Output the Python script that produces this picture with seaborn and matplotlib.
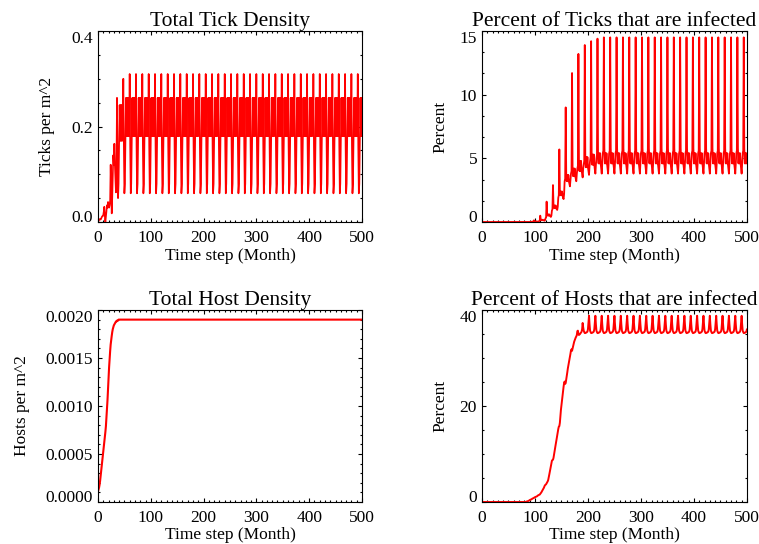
import matplotlib
matplotlib.use('Agg')
import matplotlib.pyplot as plt
import matplotlib.transforms as mtransforms
import numpy as np
import seaborn as sns
from matplotlib.ticker import FormatStrFormatter, MultipleLocator

N_MONTHS = 501
MONTHS = np.arange(N_MONTHS)

# Total tick density (ticks per m^2): first five years read month by month,
# then one yearly cycle that repeats to the end of the run
TICK_DENSITY_START = [
    0.0, 0.002, 0.004, 0.006, 0.006, 0.005, 0.007, 0.01, 0.012, 0.012, 0.015, 0.022,
    0.032, 0.012, 0.0, 0.01, 0.022, 0.035, 0.03, 0.042, 0.035, 0.03, 0.035, 0.045,
    0.12, 0.06, 0.018, 0.05, 0.10, 0.14, 0.12, 0.164, 0.12, 0.09, 0.062, 0.12,
    0.26, 0.13, 0.05, 0.08, 0.17, 0.245, 0.17, 0.245, 0.17, 0.245, 0.17, 0.20,
    0.30, 0.16, 0.06, 0.08, 0.18, 0.26, 0.18, 0.26, 0.18, 0.26, 0.18, 0.18,
]
TICK_DENSITY_CYCLE = [0.31, 0.16, 0.06, 0.08, 0.18, 0.26, 0.18, 0.26, 0.18, 0.26, 0.18, 0.18]

# Percent of ticks infected: zero for the first 90 months, then yearly rows from month 96
TICK_INFECTED_START = [0.0] * 90 + [0.0, 0.005, 0.01, 0.01, 0.015, 0.02] + [
    0.02, 0.05, 0.13, 0.05, 0.04, 0.05, 0.04, 0.05, 0.04, 0.03, 0.03, 0.05,
    0.08, 0.10, 0.5, 0.18, 0.14, 0.18, 0.14, 0.18, 0.14, 0.12, 0.10, 0.14,
    0.3, 0.35, 1.6, 0.6, 0.5, 0.6, 0.5, 0.6, 0.5, 0.45, 0.4, 0.5,
    0.9, 1.0, 2.9, 1.3, 1.1, 1.3, 1.1, 1.3, 1.1, 1.0, 0.95, 1.2,
    1.9, 2.1, 5.7, 2.4, 2.1, 2.4, 2.1, 2.4, 2.1, 1.9, 1.8, 2.2,
    3.2, 3.4, 9.0, 3.7, 3.2, 3.7, 3.2, 3.7, 3.2, 3.0, 2.8, 3.3,
    3.8, 4.0, 11.7, 4.2, 3.6, 4.2, 3.6, 4.2, 3.6, 3.4, 3.2, 3.8,
    4.2, 4.4, 13.2, 4.8, 4.0, 4.8, 4.0, 4.8, 4.0, 3.8, 3.5, 4.2,
    4.5, 4.8, 13.9, 5.1, 4.3, 5.1, 4.3, 5.1, 4.3, 4.0, 3.7, 4.4,
    4.8, 5.1, 14.2, 5.3, 4.5, 5.3, 4.5, 5.3, 4.5, 4.1, 3.8, 4.5,
    5.0, 5.3, 14.4, 5.4, 4.6, 5.4, 4.6, 5.4, 4.6, 4.2, 3.8, 4.6,
]
TICK_INFECTED_CYCLE = [5.4, 5.6, 14.5, 5.8, 4.6, 5.4, 4.6, 5.4, 4.6, 4.2, 3.8, 4.6]

# Total host density (hosts per m^2): growth over the first 40 months, then flat
HOST_DENSITY_START = [
    0.00011, 0.00013, 0.00015, 0.00018, 0.00022, 0.00027, 0.00032, 0.00037,
    0.00042, 0.00047, 0.00052, 0.00057, 0.00062, 0.00068, 0.00073, 0.00079,
    0.00088, 0.00097, 0.00106, 0.00118, 0.00129, 0.00140, 0.00149, 0.00157,
    0.00164, 0.00169, 0.00173, 0.00177, 0.00180, 0.00182, 0.00184, 0.00185,
    0.00186, 0.00187, 0.00188, 0.00188, 0.00189, 0.00189, 0.00189, 0.00190,
]
HOST_DENSITY_CYCLE = [0.00190]

# Percent of hosts infected: zero for 84 months, then yearly rows up to month 191
HOST_INFECTED_START = [0.0] * 84 + [
    0.1, 0.1, 0.15, 0.2, 0.25, 0.3, 0.4, 0.45, 0.5, 0.55, 0.6, 0.7,
    0.75, 0.8, 0.85, 0.95, 1.0, 1.05, 1.1, 1.15, 1.2, 1.3, 1.4, 1.45,
    1.5, 1.55, 1.7, 1.85, 2.0, 2.2, 2.4, 2.6, 2.8, 3.0, 3.3, 3.5,
    3.6, 3.7, 3.9, 4.1, 4.3, 4.6, 5.1, 5.7, 6.3, 6.9, 7.5, 8.0,
    8.6, 8.75, 8.8, 9.2, 9.9, 10.6, 11.3, 11.9, 12.5, 13.2, 13.9, 14.6,
    15.2, 15.7, 15.8, 16.5, 18.0, 19.2, 20.2, 21.2, 22.0, 23.0, 24.0, 24.8,
    25.1, 24.6, 24.8, 25.5, 26.3, 27.0, 27.8, 28.4, 29.0, 29.6, 30.3, 30.9,
    31.6, 31.8, 31.5, 32.0, 32.5, 33.0, 33.4, 33.7, 34.0, 34.3, 34.5, 34.8,
    35.6, 35.7, 34.9, 34.8, 34.9, 35.0, 35.2, 35.3, 35.5, 36.0, 37.3, 36.4,
]
HOST_INFECTED_CYCLE = [35.7, 35.4, 35.2, 35.2, 35.3, 35.3, 35.4, 35.5, 36.0, 37.5, 38.8, 37.0]

TITLES = ['Total Tick Density', 'Percent of Ticks that are infected',
          'Total Host Density', 'Percent of Hosts that are infected']
YLABELS = ['Ticks per m^2', 'Percent', 'Hosts per m^2', 'Percent']
XLABEL = 'Time step (Month)'
X_TICKS = [0, 100, 200, 300, 400, 500]
Y_TICKS = [[0.0, 0.2, 0.4], [0, 5, 10, 15],
           [0.0, 0.0005, 0.0010, 0.0015, 0.0020], [0, 20, 40]]


def build_series(start, cycle):
    ''' Month-by-month values: the read start-up part, then the read yearly cycle repeated. '''
    reps = (N_MONTHS - len(start)) // len(cycle) + 1
    return np.concatenate([np.array(start), np.tile(cycle, reps)])[:N_MONTHS]


def plot_panels():
    sns.set_theme(style='ticks')
    plt.rcParams['font.family'] = ['Liberation Serif', 'DejaVu Serif']

    series = [build_series(TICK_DENSITY_START, TICK_DENSITY_CYCLE),
              build_series(TICK_INFECTED_START, TICK_INFECTED_CYCLE),
              build_series(HOST_DENSITY_START, HOST_DENSITY_CYCLE),
              build_series(HOST_INFECTED_START, HOST_INFECTED_CYCLE)]

    # Axes boxes in figure fractions
    positions = [[0.1291, 0.5919, 0.3478, 0.3511], [0.6350, 0.5919, 0.3491, 0.3511],
                 [0.1291, 0.0772, 0.3478, 0.3529], [0.6350, 0.0772, 0.3491, 0.3529]]
    y_minor = [0.05, 5 / 3, 0.0001, 5]
    y_fmt = ['%.1f', '%d', '%.4f', '%d']
    ylabel_x = [-0.193, -0.158, -0.288, -0.158]
    xlabel_y = [-0.178, -0.178, -0.172, -0.172]
    line_w = [1.2, 1.3, 1.5, 1.4]

    fig = plt.figure(figsize=(7.59, 5.44), dpi=100)
    axes = []
    for i in range(4):
        ax = fig.add_axes(positions[i])
        sns.lineplot(x=MONTHS, y=series[i], ax=ax, color='#ff0000',
                     linewidth=line_w[i], estimator=None)
        ax.set_xlim(0, 500)
        ax.set_ylim(Y_TICKS[i][0], Y_TICKS[i][-1])
        ax.set_xticks(X_TICKS)
        ax.set_yticks(Y_TICKS[i])
        ax.xaxis.set_minor_locator(MultipleLocator(10))
        ax.yaxis.set_minor_locator(MultipleLocator(y_minor[i]))
        ax.yaxis.set_major_formatter(FormatStrFormatter(y_fmt[i]))
        ax.tick_params(which='both', direction='in', top=True, right=True,
                       color='black', width=0.8, labelsize=12.5, labelcolor='black')
        ax.tick_params(which='major', length=3.2)
        ax.tick_params(which='minor', length=1.6)
        ax.tick_params(axis='x', pad=5.5)
        ax.tick_params(axis='y', pad=3.5)
        for spine in ax.spines.values():
            spine.set_color('black')
            spine.set_linewidth(0.8)
        ax.set_title(TITLES[i], fontsize=15.5, pad=3.5, color='black')
        ax.set_ylabel(YLABELS[i], fontsize=12.5, color='black', va='center')
        ax.set_xlabel(XLABEL, fontsize=12.5, color='black', va='center')
        ax.yaxis.set_label_coords(ylabel_x[i], 0.5)
        ax.xaxis.set_label_coords(0.5, xlabel_y[i])
        axes.append(ax)

    # The end labels of each y axis sit a little inside the box, as in the reference
    fig.canvas.draw()
    for ax in axes:
        labels = ax.get_yticklabels()
        up = mtransforms.ScaledTranslation(0, 4 / 72, fig.dpi_scale_trans)
        down = mtransforms.ScaledTranslation(0, -4.5 / 72, fig.dpi_scale_trans)
        labels[0].set_transform(labels[0].get_transform() + up)
        labels[-1].set_transform(labels[-1].get_transform() + down)

    fig.savefig('out.png', dpi=100, facecolor='white')


if __name__ == '__main__':
    plot_panels()
